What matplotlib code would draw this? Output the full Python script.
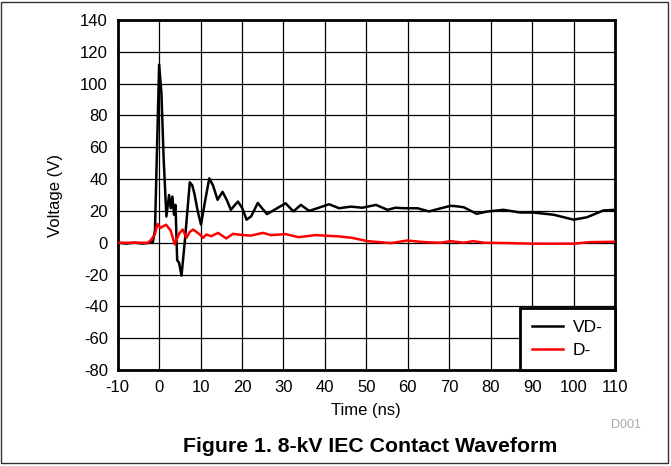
import matplotlib
matplotlib.use('Agg')
import matplotlib.pyplot as plt
from matplotlib.patches import Rectangle

plt.rcParams['font.family'] = ['Liberation Sans', 'DejaVu Sans']
plt.rcParams['axes.unicode_minus'] = False

# VD- trace (ns, V)
t_vd = [-10, -8, -6, -4, -2, -1.5, -1.0, -0.6, 0.0, 0.55, 1.1, 1.75, 2.4, 2.8,
        3.2, 3.6, 3.95, 4.35, 4.8, 5.4, 6.2, 7.4, 8.0, 8.5, 9.3, 10.1, 11.0,
        12.1, 13.0, 14.1, 15.3, 16.3, 17.3, 19.0, 20.0, 21.1, 22.2, 23.8, 26.0,
        28.2, 30.5, 32.4, 34.2, 36.2, 38.5, 41.0, 43.4, 46.3, 49.0, 52.3, 55.1,
        57.0, 59.1, 62.3, 65.1, 67.0, 70.3, 71.5, 73.5, 76.6, 79.1, 83.1, 87.1,
        90.3, 95.2, 100.0, 103.2, 107.2, 110]
v_vd = [0, -0.5, 0, -0.5, 0, 0.5, 8, 50, 112, 94, 52, 16.5, 30, 21.7,
        29, 17.6, 23.8, -11, -12.5, -20.7, 1, 38, 36, 31, 20, 11.4, 25,
        40.5, 36, 27, 32, 27, 20.7, 25.9, 22, 14.5, 16.6, 25, 18,
        21.3, 24.8, 19.7, 23.8, 20, 22, 24.2, 21.7, 22.7, 22, 23.8, 20.7,
        22, 21.7, 21.7, 19.7, 21, 23.2, 23, 22.3, 18.2, 19.6, 20.7, 19,
        19, 17.6, 14.5, 16, 20.3, 20.7]

# D- trace
t_d = [-10, -7, -4, -2.65, -1.9, -1.05, -0.4, 0.3, 0.9, 1.7, 2.8, 3.75, 4.2,
       4.9, 5.7, 6.6, 7.4, 8.2, 9.0, 9.8, 10.6, 11.4, 12.6, 14.2, 16.2, 17.8,
       20.2, 22.2, 25, 27, 30.5, 33.7, 37.7, 43.3, 46.5, 50.3, 55.9, 59.9,
       63.9, 67.9, 70.3, 73.5, 75.7, 78.5, 84, 90.3, 100, 104, 110]
v_d = [0, 0, 0, 0, 2, 5.2, 11.8, 9.3, 10.3, 11.3, 7.6, -1, 2,
       6, 8.3, 3.1, 6.8, 8.3, 6.8, 5.2, 3.1, 5.2, 4.1, 6.2, 2.7, 5.6,
       4.8, 4.5, 6.2, 4.8, 5.4, 3.5, 4.8, 4, 3.1, 1, -0.2, 1.4,
       0.4, 0, 1, 0, 1, 0, -0.2, -0.6, -0.6, 0.4, 0.6]

x_ticks = list(range(-10, 111, 10))
y_ticks = list(range(-80, 141, 20))

fig = plt.figure(figsize=(6.71, 4.66), dpi=100)
ax = fig.add_axes([0.1754, 0.206, 0.7412, 0.751])

ax.plot(t_vd, v_vd, color='black', lw=1.8, label='VD-', zorder=3)
ax.plot(t_d, v_d, color='red', lw=1.8, label='D-', zorder=3)

ax.set_xlim(-10, 110)
ax.set_ylim(-80, 140)
ax.set_xticks(x_ticks)
ax.set_yticks(y_ticks)
ax.tick_params(length=0, labelsize=12, pad=7)
ax.grid(True, color='black', lw=0.9)
for s in ax.spines.values():
    s.set_linewidth(2)

ax.set_xlabel('Time (ns)', fontsize=12, labelpad=6)
ax.set_ylabel('Voltage (V)', fontsize=12, labelpad=12)

leg = ax.legend(loc='lower right', borderaxespad=0, fontsize=12.5,
                fancybox=False, handlelength=1.75, handletextpad=0.6,
                framealpha=1, borderpad=0.7, labelspacing=0.45)
leg.get_frame().set_edgecolor('black')
leg.get_frame().set_linewidth(2)

fig.text(0.955, 0.088, 'D001', fontsize=9, color='#aaaaaa', ha='right',
         va='center')
fig.text(0.551, 0.042, 'Figure 1. 8-kV IEC Contact Waveform', fontsize=15.3,
         fontweight='bold', ha='center', va='center')

fig.patches.append(Rectangle((0.002, 0.006), 0.994, 0.99, transform=fig.transFigure,
                             fill=False, edgecolor='#333333', lw=1))

fig.savefig('out.png', dpi=100)
